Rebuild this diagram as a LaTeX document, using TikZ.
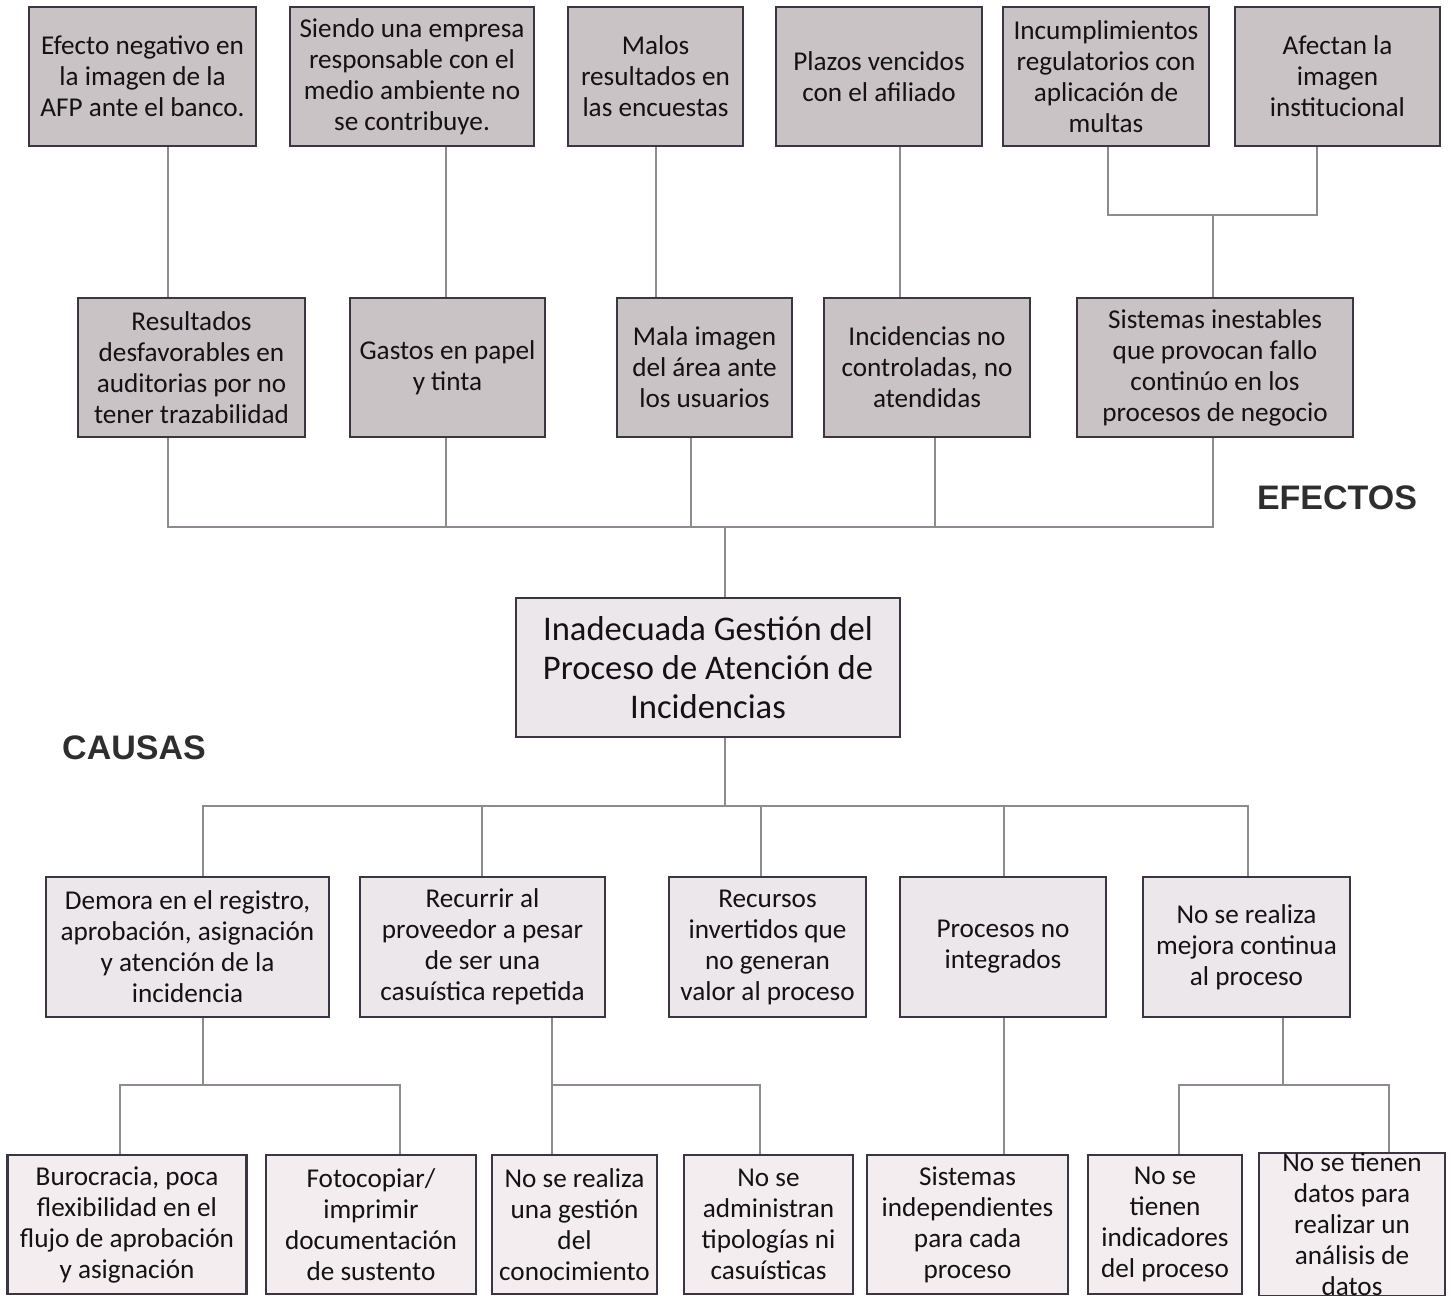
\documentclass[tikz,border=0pt]{standalone}
\usepackage{fontspec}
\setmainfont{Carlito}
\newfontfamily\labfont{Liberation Sans}
\usetikzlibrary{backgrounds}
\definecolor{efffill}{HTML}{C9C3C6}
\definecolor{cenfill}{HTML}{ECE7EA}
\definecolor{caufill}{HTML}{EBE7EA}
\definecolor{subfill}{HTML}{F3EDF0}
\definecolor{bordercol}{HTML}{3D3542}
\definecolor{linecol}{HTML}{8F8A90}
\definecolor{txtcol}{HTML}{141214}
\definecolor{labcol}{HTML}{2E2E2E}
\tikzset{
  sz/.style 2 args={minimum width=#1*0.5pt, minimum height=#2*0.5pt},
  basebox/.style={draw=bordercol, line width=1.2pt, inner sep=0pt, align=center,
    text=txtcol, font=\fontsize{13.6}{15.5}\selectfont},
  effbox/.style={basebox, fill=efffill},
  cenbox/.style={basebox, fill=cenfill, font=\fontsize{17.3}{19.5}\selectfont},
  caubox/.style={basebox, fill=caufill},
  subbox/.style={basebox, fill=subfill},
  conn/.style={draw=linecol, line width=0.9pt},
  lab/.style={font=\labfont\bfseries\fontsize{17}{20}\selectfont, text=labcol}
}
\begin{document}
\begin{tikzpicture}[x=0.5pt,y=-0.5pt]
\useasboundingbox (0,0) rectangle (1452,1296);
% effects top row
\node[effbox, sz={227}{139}] (E1) at (142.5,76.5) {Efecto negativo en\\la imagen de la\\AFP ante el banco.};
\node[effbox, sz={244}{139}] (E2) at (412,76.5) {Siendo una empresa\\responsable con el\\medio ambiente no\\se contribuye.};
\node[effbox, sz={175}{139}] (E3) at (655.5,76.5) {Malos\\resultados en\\las encuestas};
\node[effbox, sz={206}{139}] (E4) at (879,76.5) {Plazos vencidos\\con el afiliado};
\node[effbox, sz={206}{139}] (E5) at (1106,76.5) {Incumplimientos\\regulatorios con\\aplicación de\\multas};
\node[effbox, sz={205}{139}] (E6) at (1337.5,76.5) {Afectan la\\imagen\\institucional};
% effects second row
\node[effbox, sz={227}{139}] (R1) at (191.5,367.5) {Resultados\\desfavorables en\\auditorias por no\\tener trazabilidad};
\node[effbox, sz={195}{139}] (R2) at (447.5,367.5) {Gastos en papel\\y tinta};
\node[effbox, sz={175}{139}] (R3) at (704.5,367.5) {Mala imagen\\del área ante\\los usuarios};
\node[effbox, sz={206}{139}] (R4) at (927,367.5) {Incidencias no\\controladas, no\\atendidas};
\node[effbox, sz={276}{139}] (R5) at (1215,367.5) {Sistemas inestables\\que provocan fallo\\continúo en los\\procesos de negocio};
% center
\node[cenbox, sz={384}{139}] (C0) at (708,667.5) {Inadecuada Gestión del\\Proceso de Atención de\\Incidencias};
% causes
\node[caubox, sz={283}{140}] (C1) at (187.5,947) {Demora en el registro,\\aprobación, asignación\\y atención de la\\incidencia};
\node[caubox, sz={245}{140}] (C2) at (482.5,947) {Recurrir al\\proveedor a pesar\\de ser una\\casuística repetida};
\node[caubox, sz={197}{140}] (C3) at (767.5,947) {Recursos\\invertidos que\\no generan\\valor al proceso};
\node[caubox, sz={206}{140}] (C4) at (1003,947) {Procesos no\\integrados};
\node[caubox, sz={207}{140}] (C5) at (1246.5,947) {No se realiza\\mejora continua\\al proceso};
% sub causes
\node[subbox, sz={239}{139}] (B1) at (127,1224.5) {Burocracia, poca\\flexibilidad en el\\flujo de aprobación\\y asignación};
\node[subbox, sz={210}{139}] (B2) at (371,1224.5) {Fotocopiar/\\imprimir\\documentación\\de sustento};
\node[subbox, sz={165}{139}] (B3) at (574.5,1224.5) {No se realiza\\una gestión\\del\\conocimiento};
\node[subbox, sz={169}{139}] (B4) at (768.5,1224.5) {No se\\administran\\tipologías ni\\casuísticas};
\node[subbox, sz={201}{139}] (B5) at (967.5,1224.5) {Sistemas\\independientes\\para cada\\proceso};
\node[subbox, sz={154}{139}] (B6) at (1165,1224.5) {No se\\tienen\\indicadores\\del proceso};
\node[subbox, sz={186}{139}] (B7) at (1352,1224.5) {No se tienen\\datos para\\realizar un\\análisis de\\datos};
% labels
\node[lab] (LE) at (1337,498) {EFECTOS};
\node[lab] (LC) at (134,748) {CAUSAS};
% helper coordinates
\coordinate (xa) at (168,0);
\coordinate (xb) at (446,0);
\coordinate (xc) at (656,0);
\coordinate (xd) at (900,0);
\coordinate (xe) at (1108,0);
\coordinate (xf) at (1317,0);
\coordinate (xg) at (1213,0);
\coordinate (xr3) at (691,0);
\coordinate (xr4) at (935,0);
\coordinate (xm) at (725,0);
\coordinate (ybusA) at (0,215);
\coordinate (ybusB) at (0,527);
\coordinate (ybusC) at (0,806);
\coordinate (ybusD) at (0,1085);
\coordinate (xc1) at (203,0);
\coordinate (xc2) at (482,0);
\coordinate (xc3) at (761,0);
\coordinate (xc4) at (1004,0);
\coordinate (xc5) at (1248,0);
\coordinate (xb1) at (120,0);
\coordinate (xb2) at (400,0);
\coordinate (xb3) at (552,0);
\coordinate (xb4) at (760,0);
\coordinate (xb5) at (1004,0);
\coordinate (xs5) at (1283,0);
\coordinate (xb6) at (1179,0);
\coordinate (xb7) at (1389,0);
\begin{pgfonlayer}{background}
% effects links
\draw[conn] (E1.south -| xa) -- (R1.north -| xa);
\draw[conn] (E2.south -| xb) -- (R2.north -| xb);
\draw[conn] (E3.south -| xc) -- (R3.north -| xc);
\draw[conn] (E4.south -| xd) -- (R4.north -| xd);
\draw[conn] (E5.south -| xe) |- (ybusA -| xf) -- (E6.south -| xf);
\draw[conn] (ybusA -| xg) -- (R5.north -| xg);
% effects bus to center
\draw[conn] (R1.south -| xa) |- (ybusB -| xg) -- (R5.south -| xg);
\draw[conn] (R2.south -| xb) -- (ybusB -| xb);
\draw[conn] (R3.south -| xr3) -- (ybusB -| xr3);
\draw[conn] (R4.south -| xr4) -- (ybusB -| xr4);
\draw[conn] (ybusB -| xm) -- (C0.north -| xm);
% center to causes
\draw[conn] (C0.south -| xm) -- (ybusC -| xm);
\draw[conn] (C1.north -| xc1) |- (ybusC -| xc5) -- (C5.north -| xc5);
\draw[conn] (ybusC -| xc2) -- (C2.north -| xc2);
\draw[conn] (ybusC -| xc3) -- (C3.north -| xc3);
\draw[conn] (ybusC -| xc4) -- (C4.north -| xc4);
% sub causes
\draw[conn] (C1.south -| xc1) -- (ybusD -| xc1);
\draw[conn] (B1.north -| xb1) |- (ybusD -| xb2) -- (B2.north -| xb2);
\draw[conn] (C2.south -| xb3) -- (B3.north -| xb3);
\draw[conn] (ybusD -| xb3) -| (B4.north -| xb4);
\draw[conn] (C4.south -| xb5) -- (B5.north -| xb5);
\draw[conn] (C5.south -| xs5) -- (ybusD -| xs5);
\draw[conn] (B6.north -| xb6) |- (ybusD -| xb7) -- (B7.north -| xb7);
\end{pgfonlayer}
\end{tikzpicture}
\end{document}
